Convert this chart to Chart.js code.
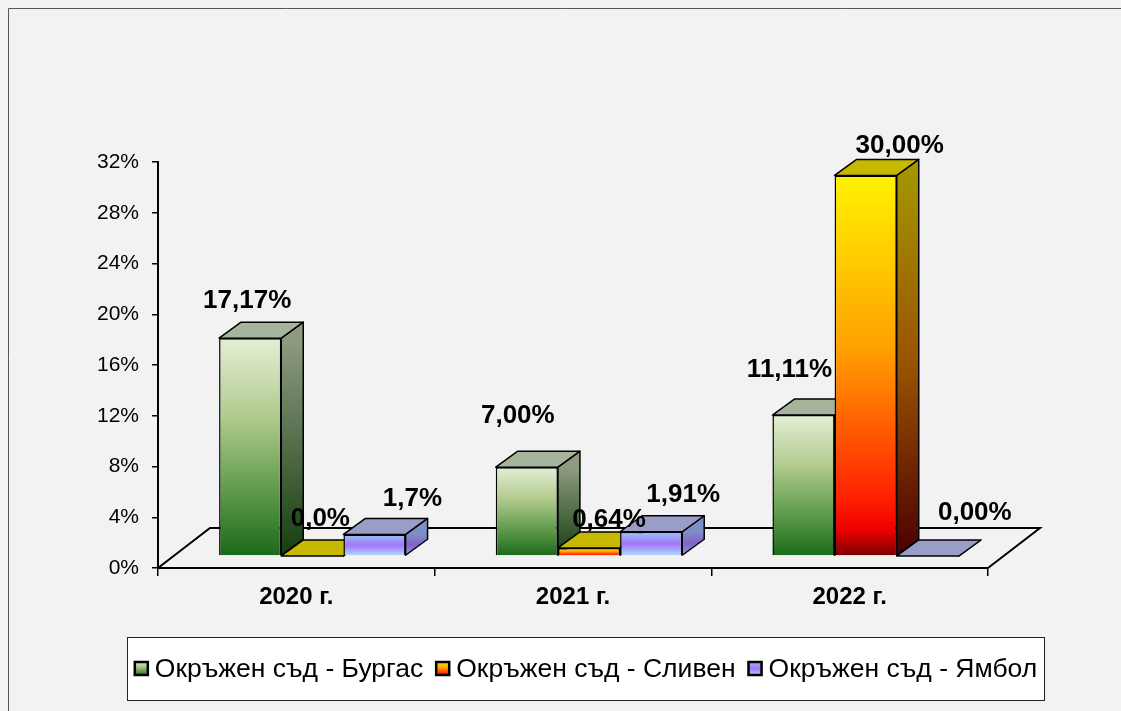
<!DOCTYPE html>
<html>
<head>
<meta charset="utf-8">
<script src="https://cdn.jsdelivr.net/npm/chart.js@4.4.0/dist/chart.umd.min.js"></script>
<style>
  html, body { margin: 0; padding: 0; background: #f2f2f2; }
  canvas { display: block; }
</style>
</head>
<body>
<canvas id="chart" width="1121" height="711"></canvas>
<script>
const years = ['2020 г.', '2021 г.', '2022 г.'];
const seriesNames = ['Окръжен съд - Бургас', 'Окръжен съд - Сливен', 'Окръжен съд - Ямбол'];
const burgas = [17.17, 7.00, 11.11];
const sliven = [0.0, 0.64, 30.00];
const yambol = [1.7, 1.91, 0.00];
// decimals shown in the data labels
const burgasDecimals = [2, 2, 2];
const slivenDecimals = [1, 2, 2];
const yambolDecimals = [1, 2, 2];
const yMax = 32;
const yStep = 4;

const FONT = '"Liberation Sans", Arial, sans-serif';

// 3d look: front plane offset, bar depth, floor depth
const DX = 16, DY = -12;
const DEPTH_X = 22, DEPTH_Y = -16;
const FLOOR_X = 52, FLOOR_Y = -40;

const palettes = [
    { front: [[0, '#e3efd5'], [0.35, '#b3cb90'], [0.7, '#5f9b4b'], [1, '#1a691a']],
      side: [[0, '#8e9b80'], [1, '#163f10']], top: '#a7b49c' },
    { front: [[0, '#fff200'], [0.45, '#ffa200'], [0.85, '#ff2000'], [0.93, '#f00000'], [1, '#7a0000']],
      side: [[0, '#a39400'], [0.5, '#9a5200'], [1, '#4a0000']], top: '#c7b900' },
    { front: [[0, '#9ac6f6'], [0.5, '#a474fb'], [1, '#ade0ff']],
      side: [[0, '#7d8fc4'], [0.5, '#8460c8'], [1, '#7fa6d4']], top: '#9b9dc9' }
];

// hand tweaks so the labels sit where the original put them
const labelNudge = [
    [[-3, -21], [-9, -35], [-14, -29]],
    [[8, -21], [20, -12], [34, -14]],
    [[38, -20], [32, -21], [47, -27]]
];

function makeGradient(ctx, top, bottom, stops) {
    const g = ctx.createLinearGradient(0, top, 0, bottom === top ? top + 1 : bottom);
    stops.forEach(function (s) { g.addColorStop(s[0], s[1]); });
    return g;
}

function frontFill(idx) {
    return function (c) {
        const y = c.chart.scales.y;
        if (!y || typeof c.raw !== 'number') return palettes[idx].top;
        const top = y.getPixelForValue(c.raw), bottom = y.getPixelForValue(0);
        if (!isFinite(top) || !isFinite(bottom)) return palettes[idx].top;
        return makeGradient(c.chart.ctx, top, bottom, palettes[idx].front);
    };
}

function fillPoly(ctx, pts, fill) {
    ctx.beginPath();
    ctx.moveTo(pts[0][0], pts[0][1]);
    for (let i = 1; i < pts.length; i++) ctx.lineTo(pts[i][0], pts[i][1]);
    ctx.closePath();
    ctx.fillStyle = fill;
    ctx.fill();
    ctx.stroke();
}

const bars3d = {
    id: 'bars3d',
    beforeDatasetsDraw: function (chart) {
        const ctx = chart.ctx, a = chart.chartArea;
        ctx.save();
        ctx.strokeStyle = '#000';
        ctx.lineWidth = 2;
        ctx.beginPath();
        ctx.moveTo(a.left, a.bottom);
        ctx.lineTo(a.left + FLOOR_X, a.bottom + FLOOR_Y);
        ctx.lineTo(a.right + FLOOR_X, a.bottom + FLOOR_Y);
        ctx.lineTo(a.right, a.bottom);
        ctx.stroke();

        // side and top faces, left to right so later bars cover earlier ones
        ctx.lineWidth = 1.5;
        ctx.lineJoin = 'round';
        for (let i = 0; i < chart.data.labels.length; i++) {
            chart.data.datasets.forEach(function (ds, d) {
                const bar = chart.getDatasetMeta(d).data[i];
                const L = bar.x - bar.width / 2 + DX, R = bar.x + bar.width / 2 + DX;
                const T = bar.y + DY, B = bar.base + DY;
                const p = palettes[d];
                fillPoly(ctx, [[R, T], [R + DEPTH_X, T + DEPTH_Y], [R + DEPTH_X, B + DEPTH_Y], [R, B]],
                    makeGradient(ctx, T, B, p.side));
                fillPoly(ctx, [[L, T], [R, T], [R + DEPTH_X, T + DEPTH_Y], [L + DEPTH_X, T + DEPTH_Y]], p.top);
            });
        }
        ctx.restore();
        // the library draws the front faces in the shifted plane
        ctx.save();
        ctx.translate(DX, DY);
    },
    afterDatasetsDraw: function (chart) {
        const ctx = chart.ctx;
        ctx.restore();
        const decimals = [burgasDecimals, slivenDecimals, yambolDecimals];
        ctx.save();
        ctx.font = 'bold 26px ' + FONT;
        ctx.fillStyle = '#000';
        ctx.textAlign = 'center';
        ctx.textBaseline = 'middle';
        chart.data.datasets.forEach(function (ds, d) {
            chart.getDatasetMeta(d).data.forEach(function (bar, i) {
                const txt = ds.data[i].toFixed(decimals[d][i]).replace('.', ',') + '%';
                const n = labelNudge[d][i];
                ctx.fillText(txt, bar.x + DX + n[0], bar.y + DY + DEPTH_Y + n[1]);
            });
        });
        ctx.restore();
    },
    afterDraw: function (chart) {
        const ctx = chart.ctx;
        ctx.save();
        // frame
        ctx.strokeStyle = '#555';
        ctx.lineWidth = 1;
        ctx.beginPath();
        ctx.moveTo(8.5, chart.height);
        ctx.lineTo(8.5, 8.5);
        ctx.lineTo(chart.width, 8.5);
        ctx.stroke();

        // legend box
        const box = { left: 127, top: 637, width: 917, height: 63 };
        ctx.fillStyle = '#fff';
        ctx.fillRect(box.left, box.top, box.width, box.height);
        ctx.strokeStyle = '#222';
        ctx.strokeRect(box.left + 0.5, box.top + 0.5, box.width, box.height);

        ctx.font = '26.5px ' + FONT;
        ctx.textBaseline = 'middle';
        const mark = 15, gap = 6, space = 12;
        const widths = seriesNames.map(function (s) { return ctx.measureText(s).width; });
        let total = 0;
        widths.forEach(function (w) { total += mark + gap + w; });
        total += space * (widths.length - 1);
        let x = box.left + (box.width - total) / 2;
        const cy = box.top + box.height / 2;
        seriesNames.forEach(function (s, d) {
            const my = cy - mark / 2;
            ctx.fillStyle = makeGradient(ctx, my, my + mark, palettes[d].front);
            ctx.fillRect(x, my, mark, mark);
            ctx.lineWidth = 2.5;
            ctx.strokeStyle = '#000';
            ctx.strokeRect(x + 1, my + 1, mark - 2, mark - 2);
            x += mark + gap;
            ctx.fillStyle = '#000';
            ctx.fillText(s, x, cy + 1);
            x += widths[d] + space;
        });
        ctx.restore();
    }
};

new Chart(document.getElementById('chart'), {
    type: 'bar',
    data: {
        labels: years,
        datasets: [burgas, sliven, yambol].map(function (values, i) {
            return {
                label: seriesNames[i],
                data: values,
                backgroundColor: frontFill(i),
                borderColor: '#000',
                borderWidth: 1.5,
                categoryPercentage: 0.674,
                barPercentage: 1,
                clip: false
            };
        })
    },
    options: {
        responsive: false,
        animation: false,
        events: [],
        layout: { padding: { left: 8, top: 162, right: 133, bottom: 100 } },
        plugins: { legend: { display: false }, tooltip: { enabled: false } },
        scales: {
            x: {
                grid: { drawOnChartArea: false, color: '#000', tickLength: 8, lineWidth: 1.5 },
                border: { color: '#000', width: 2 },
                ticks: { color: '#000', font: { family: FONT, size: 24, weight: 'bold' }, padding: 7 },
                afterFit: function (s) { s.height = 43; }
            },
            y: {
                min: 0,
                max: yMax,
                grid: { drawOnChartArea: false, color: '#000', tickLength: 6, lineWidth: 1.5 },
                border: { color: '#000', width: 2 },
                ticks: {
                    stepSize: yStep, color: '#000', font: { family: FONT, size: 21 }, padding: 13,
                    callback: function (v) { return v + '%'; }
                },
                afterFit: function (s) { s.width = 150; }
            }
        }
    },
    plugins: [bars3d]
});
</script>
</body>
</html>
